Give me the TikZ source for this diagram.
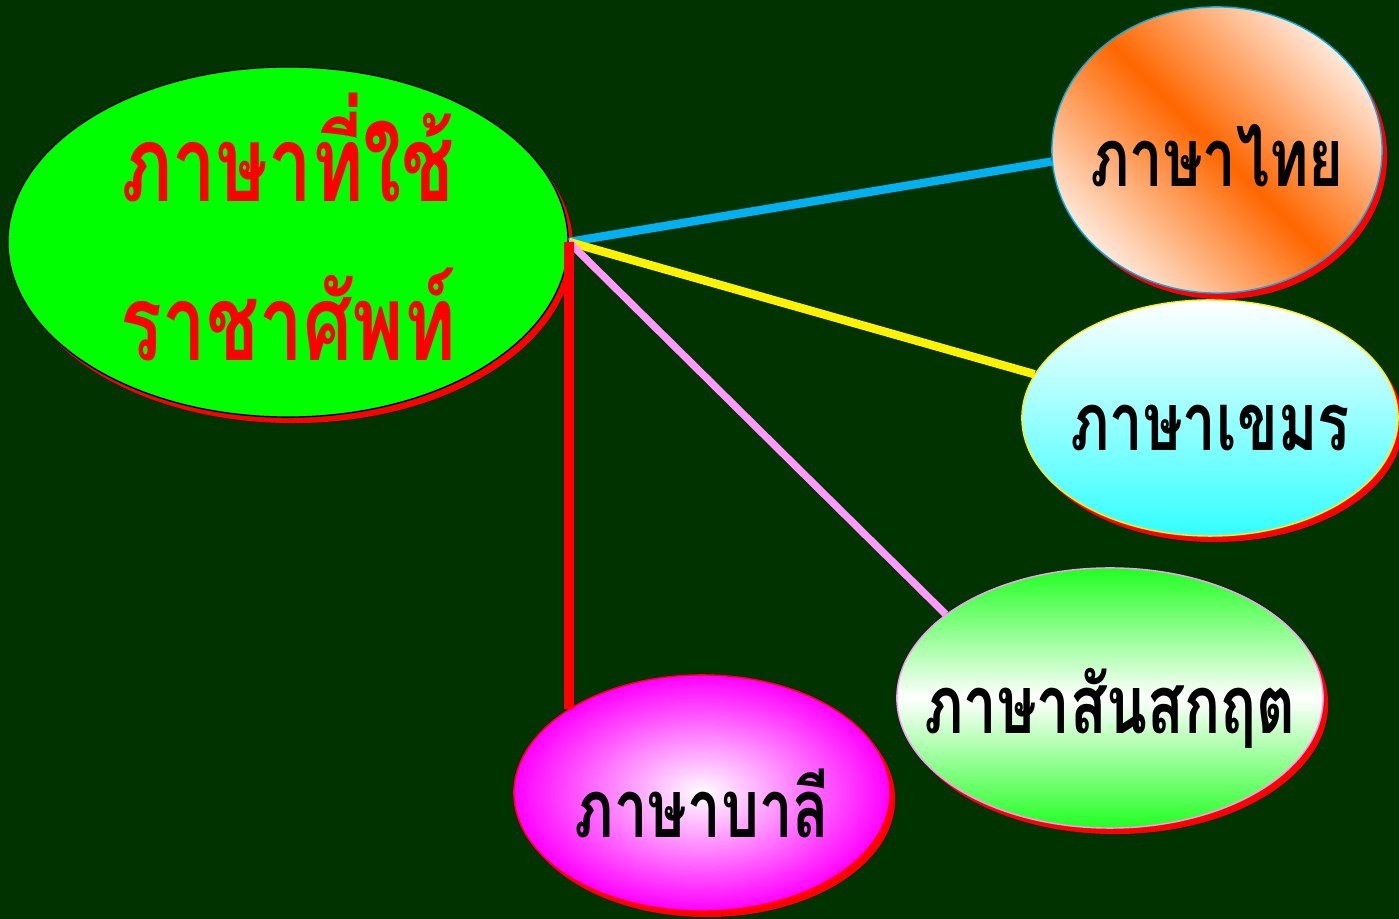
\documentclass[tikz,border=0pt]{standalone}
\usepackage{fontspec}
\newfontfamily\thaifont[Script=Thai, FakeStretch=0.74]{Loma}
\usepackage{tikz}
\usetikzlibrary{shapes.geometric, shadows}
\definecolor{bggreen}{HTML}{003300}
\definecolor{limegreen}{HTML}{00FF00}
\definecolor{skyline}{HTML}{00B0F0}
\definecolor{orangeth}{HTML}{FF6600}
\definecolor{cyankh}{HTML}{33FFFF}
\definecolor{greensk}{HTML}{22FF22}
\definecolor{pinkline}{HTML}{FF99FF}
\tikzset{
  bubble/.style={ellipse, draw, thin, inner sep=0pt,
    drop shadow={shadow xshift=0.05cm, shadow yshift=-0.06cm, fill=red, opacity=1}},
  thlbl/.style={font=\thaifont\bfseries\fontsize{23pt}{26pt}\selectfont, text=black},
  link/.style={line width=2.4pt},
}
\begin{document}
\begin{tikzpicture}[x=0.01cm, y=-0.01cm]
  \fill[bggreen] (0,0) rectangle (1399,919);
  \node[bubble, draw=black, fill=limegreen, minimum width=5.6cm, minimum height=3.5cm,
    label={[font=\thaifont\bfseries\fontsize{30pt}{45pt}\selectfont, text=red, align=center,
      yshift=0.15cm]center:ภาษาที่ใช้\\ราชาศัพท์}] (main) at (288,242) {};
  \node[bubble, draw=skyline, left color=white!85!orangeth, right color=white!85!orangeth,
    middle color=orangeth, shading angle=-45, minimum width=3.3cm, minimum height=2.86cm,
    label={[thlbl, yshift=-0.06cm]center:ภาษาไทย}] (thai) at (1217,150) {};
  \node[bubble, draw=yellow, top color=white, bottom color=cyankh,
    minimum width=3.76cm, minimum height=2.36cm,
    label={[thlbl, yshift=-0.1cm]center:ภาษาเขมร}] (khmer) at (1210,418) {};
  \node[bubble, draw=pinkline, top color=greensk, bottom color=greensk, middle color=white,
    minimum width=4.26cm, minimum height=2.6cm,
    label={[thlbl, yshift=-0.1cm]center:ภาษาสันสกฤต}] (sanskrit) at (1110,698) {};
  \node[bubble, draw=red, inner color=white, outer color=magenta,
    minimum width=3.76cm, minimum height=2.36cm,
    label={[thlbl, yshift=-0.1cm]center:ภาษาบาลี}] (pali) at (702,793) {};
  % connectors
  \draw[link, skyline] (main.east) -- (thai.184);
  \draw[link, yellow] (main.east) -- (khmer.166);
  \draw[link, pinkline, line width=2.1pt] (main.east) -- (sanskrit.153);
  \draw[link, red, line width=2.8pt] (main.east) -- (main.east |- pali.148);
\end{tikzpicture}
\end{document}
